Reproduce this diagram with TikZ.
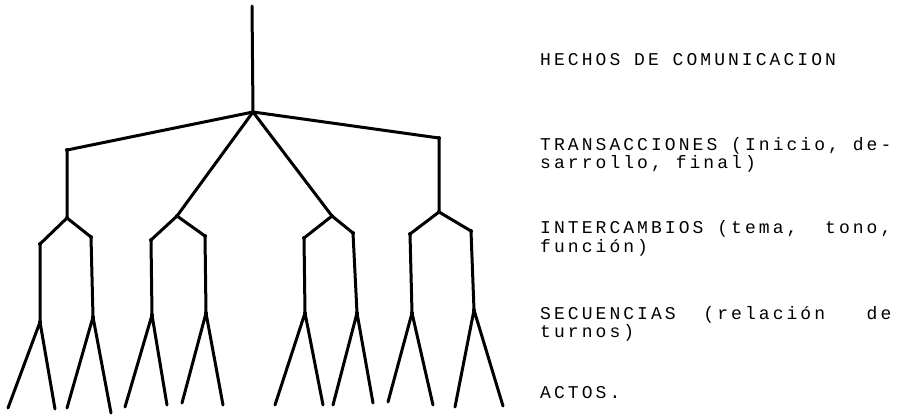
\documentclass[tikz,border=0pt]{standalone}
\usepackage{fontspec}
\usepackage{tikz}
\newfontfamily\printfont{Liberation Mono}[LetterSpace=17]

\tikzset{
  joint/.style={circle,fill,inner sep=0pt,minimum size=4pt},
  stem/.style={line width=3pt,line cap=round,line join=round},
  level/.style={anchor=base west,inner sep=0pt,font=\printfont\fontsize{18pt}{18pt}\selectfont}
}

\begin{document}
\begin{tikzpicture}[x=1pt,y=-1pt]
\useasboundingbox (0,0) rectangle (901,415);
%% tree
\coordinate (top) at (252,6);
\node (r) at (253,112) [joint] {};
\node (t1) at (67,150) [joint] {};
\node (t4) at (439,138) [joint] {};
\node (i1) at (67,218) [joint] {};
\node (i2) at (177,216) [joint] {};
\node (i3) at (332,216) [joint] {};
\node (i4) at (439,212) [joint] {};
\node (k1) at (40,244) [joint] {};
\node (k2) at (91,237) [joint] {};
\node (k3) at (151,240) [joint] {};
\node (k4) at (205,236) [joint] {};
\node (k5) at (304,238) [joint] {};
\node (k6) at (353,233) [joint] {};
\node (k7) at (410,234) [joint] {};
\node (k8) at (471,231) [joint] {};
\node (s1) at (40,322) [joint] {};
\node (s2) at (93,317) [joint] {};
\node (s3) at (152,315) [joint] {};
\node (s4) at (206,313) [joint] {};
\node (s5) at (305,313) [joint] {};
\node (s6) at (357,313) [joint] {};
\node (s7) at (412,313) [joint] {};
\node (s8) at (474,310) [joint] {};
\coordinate (a1) at (8,408);   \coordinate (b1) at (55,409);
\coordinate (a2) at (67,408);  \coordinate (b2) at (111,413);
\coordinate (a3) at (125,407); \coordinate (b3) at (167,405);
\coordinate (a4) at (182,403); \coordinate (b4) at (223,405);
\coordinate (a5) at (275,405); \coordinate (b5) at (323,405);
\coordinate (a6) at (333,405); \coordinate (b6) at (373,403);
\coordinate (a7) at (388,402); \coordinate (b7) at (433,405);
\coordinate (a8) at (455,407); \coordinate (b8) at (503,406);
\draw [stem] (top) -- (r.center);
\draw [stem] (r.center) -- (t1.center) -- (i1.center);
\draw [stem] (r.center) -- (t4.center) -- (i4.center);
\draw [stem] (r.center) -- (i2.center);
\draw [stem] (r.center) -- (i3.center);
\draw [stem] (s1.center) -- (k1.center) -- (i1.center) -- (k2.center) -- (s2.center);
\draw [stem] (s3.center) -- (k3.center) -- (i2.center) -- (k4.center) -- (s4.center);
\draw [stem] (s5.center) -- (k5.center) -- (i3.center) -- (k6.center) -- (s6.center);
\draw [stem] (s7.center) -- (k7.center) -- (i4.center) -- (k8.center) -- (s8.center);
\draw [stem] (a1) -- (s1.center) -- (b1);
\draw [stem] (a2) -- (s2.center) -- (b2);
\draw [stem] (a3) -- (s3.center) -- (b3);
\draw [stem] (a4) -- (s4.center) -- (b4);
\draw [stem] (a5) -- (s5.center) -- (b5);
\draw [stem] (a6) -- (s6.center) -- (b6);
\draw [stem] (a7) -- (s7.center) -- (b7);
\draw [stem] (a8) -- (s8.center) -- (b8);
%% levels
\node (hechos) at (540,65) [level] {HECHOS DE COMUNICACION};
\node (trans) at (540,150) [level] {TRANSACCIONES (Inicio, de-};
\node (trans2) at (540,168) [level] {sarrollo, final)};
\node (inter) at (540,233) [level] {INTERCAMBIOS (tema,\ \ tono,};
\node (inter2) at (540,252) [level] {función)};
\node (secu) at (540,319) [level] {SECUENCIAS\ \ (relación\ \ \ de};
\node (secu2) at (540,337) [level] {turnos)};
\node (actos) at (540,398) [level] {ACTOS.};
%
\end{tikzpicture}
\end{document}
